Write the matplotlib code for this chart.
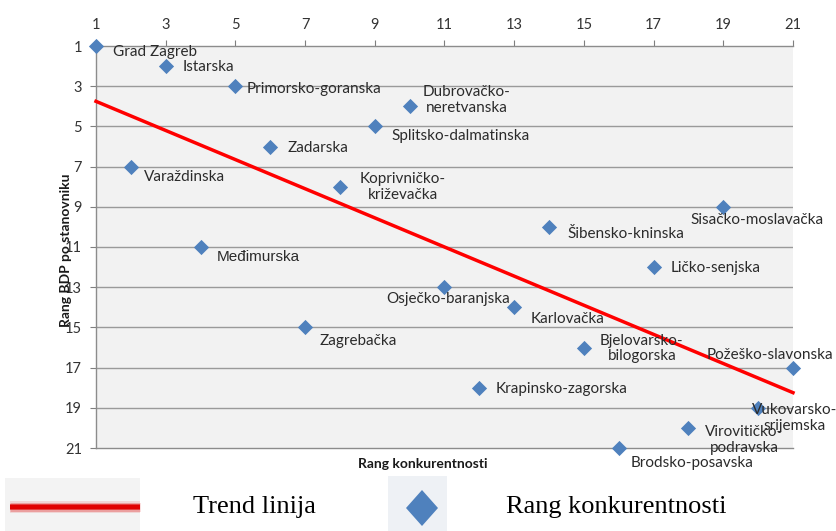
import numpy as np
import matplotlib
matplotlib.use("Agg")
import matplotlib.pyplot as plt
from matplotlib.patches import Rectangle, Polygon
from matplotlib.lines import Line2D

# ---- data ----
counties = ["Grad Zagreb", "Istarska", "Primorsko-goranska", "Dubrovačko-\nneretvanska",
            "Splitsko-dalmatinska", "Zadarska", "Varaždinska", "Koprivničko-\nkriževačka",
            "Sisačko-moslavačka", "Šibensko-kninska", "Međimurska", "Ličko-senjska",
            "Osječko-baranjska", "Karlovačka", "Zagrebačka", "Bjelovarsko-\nbilogorska",
            "Požeško-slavonska", "Krapinsko-zagorska", "Vukovarsko-\nsrijemska",
            "Virovitičko-\npodravska", "Brodsko-posavska"]
rang_konkurentnosti = [1, 3, 5, 10, 9, 6, 2, 8, 19, 14, 4, 17, 11, 13, 7, 15, 21, 12, 20, 18, 16]
rang_bdp = [1, 2, 3, 4, 5, 6, 7, 8, 9, 10, 11, 12, 13, 14, 15, 16, 17, 18, 19, 20, 21]
ticks = [1, 3, 5, 7, 9, 11, 13, 15, 17, 19, 21]

# label placement (pixel offsets from the marker, horizontal alignment)
label_offsets = [(17, -6, 'left'), (17, -1, 'left'), (11, -3, 'left'), (57, 6, 'center'),
                 (17, -10, 'left'), (17, -2, 'left'), (13, -10, 'left'), (63, 0, 'center'),
                 (-33, -13, 'left'), (18, -7, 'left'), (16, -10, 'left'), (17, -1, 'left'),
                 (-58, -12, 'left'), (16, -12, 'left'), (14, -14, 'left'), (58, -1, 'center'),
                 (-86, 13, 'left'), (16, -1, 'left'), (36, -10, 'center'),
                 (56, -12, 'center'), (12, -15, 'left')]

W, H = 837, 531
fig = plt.figure(figsize=(W / 100, H / 100), dpi=100)
L, R, T, B = 96, 793, 46, 448
ax = fig.add_axes([L / W, 1 - B / H, (R - L) / W, (B - T) / H])
ax.set_facecolor('#f2f2f2')

x = np.array(rang_konkurentnosti, float)
y = np.array(rang_bdp, float)

ax.set_xlim(1, 21)
ax.set_ylim(21, 1)
ax.set_xticks(ticks)
ax.set_yticks(ticks)
ax.xaxis.tick_top()
ax.tick_params(axis='both', colors='#7f7f7f', labelcolor='#333333', labelsize=10.5,
               length=4, width=0.8, pad=6)
for lab in ax.get_xticklabels() + ax.get_yticklabels():
    lab.set_family('Lato')
for yy in ticks[1:-1]:
    ax.axhline(yy, color='#9a9a9a', lw=1.0, zorder=1)
ax.spines['right'].set_visible(False)
for s in ['left', 'top', 'bottom']:
    ax.spines[s].set_color('#8c8c8c')
    ax.spines[s].set_linewidth(1.0)

# trend line (least squares fit)
k, b = np.polyfit(x, y, 1)
xl = np.array([1, 21])
ax.plot(xl, k * xl + b, color='#ff0000', lw=2.5, zorder=3, clip_on=False)

ax.scatter(x, y, marker='D', s=60, color='#4f81bd', zorder=4, clip_on=False, linewidths=0)

for i, name in enumerate(counties):
    dx, dy, ha = label_offsets[i]
    fam = 'Liberation Sans' if name == 'Međimurska' else 'Lato'
    ax.annotate(name, (x[i], y[i]), xytext=(dx, dy), textcoords='offset pixels',
                ha=ha, va='center', fontsize=11, family=fam, color='#2b2b2b',
                multialignment='center', linespacing=1.15, zorder=5, annotation_clip=False)

fig.text(66 / W, 1 - 250 / H, 'Rang BDP po stanovniku', rotation=90, ha='center', va='center',
         fontsize=10, family='Lato', weight='bold', color='#1a1a1a')
fig.text(423 / W, 1 - 464 / H, 'Rang konkurentnosti', ha='center', va='center',
         fontsize=10, family='Lato', weight='bold', color='#1a1a1a')

# legend graphics
fig.patches.append(Rectangle((5 / W, 0), 135 / W, 53 / H, transform=fig.transFigure,
                             facecolor='#f3f3f3', edgecolor='none'))
for lw, a in [(12, 0.12), (9, 0.25), (6, 0.6), (4, 1.0)]:
    fig.lines.append(Line2D([10 / W, 140 / W], [1 - 507 / H] * 2, transform=fig.transFigure,
                            color='#e00000', lw=lw * 0.72, alpha=a, solid_capstyle='butt'))
fig.patches.append(Rectangle((388 / W, 0), 59 / W, 55 / H, transform=fig.transFigure,
                             facecolor='#eef1f5', edgecolor='none'))
cx, cy = 422, 508
fig.patches.append(Polygon([((cx - 16) / W, 1 - cy / H), (cx / W, 1 - (cy - 18) / H),
                            ((cx + 16) / W, 1 - cy / H), (cx / W, 1 - (cy + 18) / H)],
                           closed=True, transform=fig.transFigure,
                           facecolor='#4f81bd', edgecolor='none'))
fig.text(193 / W, 1 - 513 / H, 'Trend linija', ha='left', va='baseline', fontsize=19,
         family='Liberation Serif', color='black')
fig.text(506 / W, 1 - 513 / H, 'Rang konkurentnosti', ha='left', va='baseline', fontsize=19,
         family='Liberation Serif', color='black')

fig.savefig('out.png', dpi=100)
